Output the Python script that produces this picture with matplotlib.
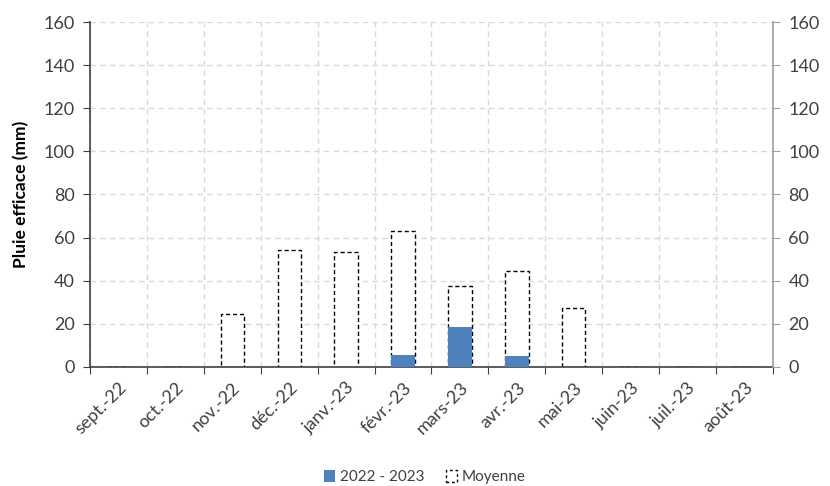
import numpy as np
import matplotlib.pyplot as plt
import matplotlib.patches as mpatches

plt.rcParams['font.family'] = ['Lato', 'DejaVu Sans']

months = ['sept.-22', 'oct.-22', 'nov.-22', 'déc.-22', 'janv.-23', 'févr.-23',
          'mars-23', 'avr.-23', 'mai-23', 'juin-23', 'juil.-23', 'août-23']
pluie_2022_2023 = [0, 0, 0, 0, 0, 5.5, 18.5, 5, 0, 0, 0, 0]
moyenne = [0, 0, 24.5, 54.3, 53.3, 63, 37.6, 44.5, 27.4, 0, 0, 0]

blue = '#4F81BD'
text_col = '#404040'

fig = plt.figure(figsize=(8.3, 4.86), dpi=100)
ax = fig.add_axes([0.1084, 0.2449, 0.8229, 0.7098])

x = np.arange(len(months))
w = 0.41

# average drawn as an empty dashed outline, current season filled on top
ax.bar(x, moyenne, width=w, facecolor='white', edgecolor='black',
       linestyle=(0, (3, 2)), linewidth=1, zorder=2)
ax.bar(x, pluie_2022_2023, width=w, color=blue, edgecolor='none', zorder=3)

ax.set_xlim(-0.5, len(months) - 0.5)
ax.set_ylim(0, 160)
ax.set_yticks(np.arange(0, 161, 20))

# ticks/grid on category boundaries, labels in the middle
ax.set_xticks(np.arange(-0.5, len(months), 1))
ax.set_xticklabels([])
ax.set_xticks(x, minor=True)
ax.set_xticklabels(months, minor=True, rotation=45, ha='right',
                   rotation_mode='anchor', fontsize=13, color=text_col)
ax.tick_params(axis='x', which='minor', length=0, pad=9)
ax.tick_params(axis='x', which='major', length=5, direction='out', color='#404040')
ax.tick_params(axis='y', length=5, direction='out', color='#404040',
               labelsize=13, labelcolor=text_col, pad=6)

ax.grid(True, which='major', color='#D9D9D9', linestyle=(0, (4, 3)), linewidth=1, zorder=0)
ax.set_axisbelow(True)

for s in ['top', 'right']:
    ax.spines[s].set_visible(False)
ax.spines['left'].set_color('#404040')
ax.spines['bottom'].set_color('#404040')
ax.spines['left'].set_linewidth(1.2)
ax.spines['bottom'].set_linewidth(1.2)

ax.set_ylabel('Pluie efficace (mm)', fontsize=12.5, fontweight='bold', color='black', labelpad=10)

ax2 = ax.twinx()
ax2.set_ylim(0, 160)
ax2.set_yticks(np.arange(0, 161, 20))
ax2.tick_params(axis='y', length=5, direction='out', color='#A0A0A0',
                labelsize=13, labelcolor=text_col, pad=6)
for s in ['top', 'left', 'bottom']:
    ax2.spines[s].set_visible(False)
ax2.spines['right'].set_color('#A0A0A0')
ax2.spines['right'].set_linewidth(1.2)

handles = [mpatches.Patch(facecolor=blue, edgecolor='none', label='2022 - 2023'),
           mpatches.Patch(facecolor='white', edgecolor='black', linestyle=(0, (2, 2)),
                          label='Moyenne')]
fig.legend(handles=handles, loc='center', bbox_to_anchor=(0.512, 0.018), ncol=2,
           frameon=False, fontsize=11, handlelength=0.75, handleheight=0.75,
           handletextpad=0.3, columnspacing=1.4, labelcolor=text_col)

fig.savefig('out.png', dpi=100)
